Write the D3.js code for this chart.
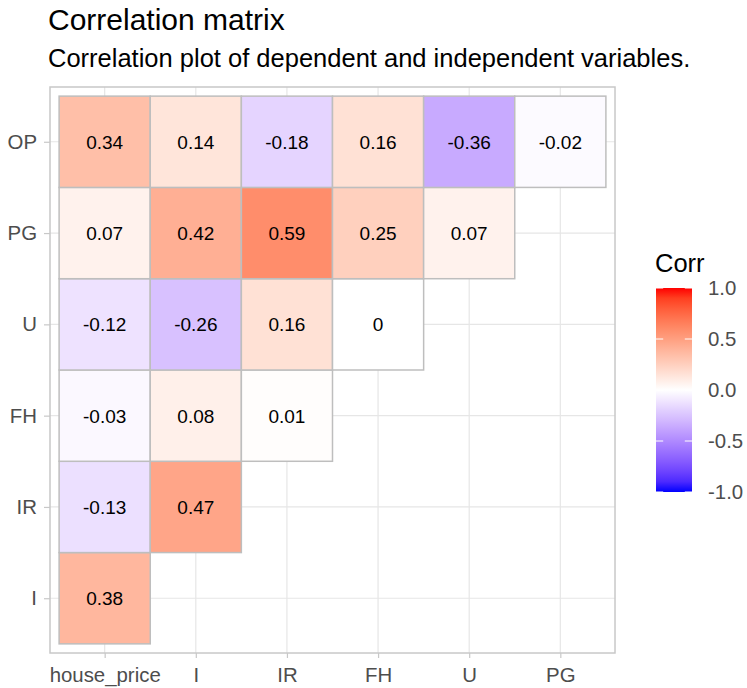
<!DOCTYPE html>
<html>
<head>
<meta charset="utf-8">
<script src="https://cdn.jsdelivr.net/npm/d3@7"></script>
<style>
  body { margin: 0; background: #fff; }
  svg { display: block; font-family: "Liberation Sans", Arial, sans-serif; }
</style>
</head>
<body>
<svg id="corr-plot"></svg>
<script>
const width = 747,
    height = 688;

// variables on each axis
const xVars = ["house_price", "I", "IR", "FH", "U", "PG"];
const yVars = ["I", "IR", "FH", "U", "PG", "OP"]; // bottom to top

// lower-triangle correlations, one row per y variable (left to right along xVars)
const rowI  = [0.38];
const rowIR = [-0.13, 0.47];
const rowFH = [-0.03, 0.08, 0.01];
const rowU  = [-0.12, -0.26, 0.16, 0];
const rowPG = [0.07, 0.42, 0.59, 0.25, 0.07];
const rowOP = [0.34, 0.14, -0.18, 0.16, -0.36, -0.02];

const legendTicks = [1.0, 0.5, 0.0, -0.5, -1.0];

const rows = { I: rowI, IR: rowIR, FH: rowFH, U: rowU, PG: rowPG, OP: rowOP };
const cells = [];
yVars.forEach(yv => {
    rows[yv].forEach((v, i) => cells.push({ x: xVars[i], y: yv, value: v }));
});

const panel = { left: 50, right: 615, top: 87, bottom: 653 };

const x = d3.scalePoint()
    .domain(xVars)
    .range([panel.left, panel.right])
    .padding(0.6);

const y = d3.scalePoint()
    .domain(yVars)
    .range([panel.bottom, panel.top])
    .padding(0.6);

const color = d3.scaleLinear()
    .domain([-1, 0, 1])
    .range(["blue", "white", "red"])
    .interpolate(d3.interpolateLab);

// plain hyphen for negatives, like the original
const fmtTick = d => d.toFixed(1);

const svg = d3.select('#corr-plot')
    .attr('width', width)
    .attr('height', height);

svg.append('rect').attr('width', width).attr('height', height).attr('fill', '#fff');

// titles
svg.append('text')
    .attr('x', 48).attr('y', 30)
    .style('font-size', '30px')
    .attr('fill', '#000')
    .text('Correlation matrix');

svg.append('text')
    .attr('x', 48).attr('y', 67)
    .style('font-size', '25.5px')
    .attr('fill', '#000')
    .text('Correlation plot of dependent and independent variables.');

// grid
const grid = svg.append('g');
grid.selectAll('line.vx')
    .data(xVars).join('line')
    .attr('x1', d => x(d)).attr('x2', d => x(d))
    .attr('y1', panel.top).attr('y2', panel.bottom)
    .attr('stroke', '#e6e6e6').attr('stroke-width', 1.2);
grid.selectAll('line.hy')
    .data(yVars).join('line')
    .attr('y1', d => y(d)).attr('y2', d => y(d))
    .attr('x1', panel.left).attr('x2', panel.right)
    .attr('stroke', '#e6e6e6').attr('stroke-width', 1.2);

// tiles
const step = x.step(), stepY = y.step();
const tile = svg.append('g').selectAll('g')
    .data(cells).join('g');

tile.append('rect')
    .attr('x', d => x(d.x) - step / 2)
    .attr('y', d => y(d.y) - stepY / 2)
    .attr('width', step)
    .attr('height', stepY)
    .attr('fill', d => color(d.value))
    .attr('stroke', '#bebebe')
    .attr('stroke-width', 1.5);

tile.append('text')
    .attr('x', d => x(d.x))
    .attr('y', d => y(d.y))
    .attr('dy', '0.37em')
    .attr('text-anchor', 'middle')
    .style('font-size', '19px')
    .attr('fill', '#000')
    .text(d => String(d.value));

// panel border
svg.append('rect')
    .attr('x', panel.left).attr('y', panel.top)
    .attr('width', panel.right - panel.left)
    .attr('height', panel.bottom - panel.top)
    .attr('fill', 'none')
    .attr('stroke', '#c8c8c8')
    .attr('stroke-width', 1.5);

// axes
const xAxis = svg.append('g')
    .attr('transform', `translate(0,${panel.bottom})`)
    .call(d3.axisBottom(x).tickSize(5).tickPadding(6));
const yAxis = svg.append('g')
    .attr('transform', `translate(${panel.left},0)`)
    .call(d3.axisLeft(y).tickSize(6).tickPadding(7));

[xAxis, yAxis].forEach(ax => {
    ax.select('.domain').remove();
    ax.selectAll('.tick line').attr('stroke', '#c8c8c8').attr('stroke-width', 1.2);
    ax.selectAll('.tick text')
        .attr('fill', '#4d4d4d')
        .style('font-size', '20.4px')
        .style('font-family', '"Liberation Sans", Arial, sans-serif');
});
xAxis.selectAll('.tick text').attr('dy', '0.9em');

// legend colourbar
const bar = { x: 656, w: 36, top: 288, bottom: 492 };
const ly = d3.scaleLinear().domain([-1, 1]).range([bar.bottom, bar.top]);

const defs = svg.append('defs');
const grad = defs.append('linearGradient')
    .attr('id', 'corr-grad')
    .attr('x1', 0).attr('x2', 0).attr('y1', 1).attr('y2', 0);
grad.selectAll('stop')
    .data(d3.range(-1, 1.0001, 0.1))
    .join('stop')
    .attr('offset', d => (d + 1) / 2)
    .attr('stop-color', d => color(d));

const legend = svg.append('g');
legend.append('text')
    .attr('x', 655).attr('y', 272)
    .style('font-size', '25.5px')
    .attr('fill', '#000')
    .text('Corr');

legend.append('rect')
    .attr('x', bar.x).attr('y', bar.top)
    .attr('width', bar.w).attr('height', bar.bottom - bar.top)
    .attr('fill', 'url(#corr-grad)');

legend.selectAll('line.tl')
    .data(legendTicks).join('line')
    .attr('x1', bar.x).attr('x2', bar.x + bar.w / 5)
    .attr('y1', d => ly(d)).attr('y2', d => ly(d))
    .attr('stroke', '#fff').attr('stroke-width', 1);
legend.selectAll('line.tr')
    .data(legendTicks).join('line')
    .attr('x1', bar.x + bar.w).attr('x2', bar.x + bar.w * 4 / 5)
    .attr('y1', d => ly(d)).attr('y2', d => ly(d))
    .attr('stroke', '#fff').attr('stroke-width', 1);

legend.selectAll('text.lab')
    .data(legendTicks).join('text')
    .attr('x', 708)
    .attr('y', d => ly(d))
    .attr('dy', '0.35em')
    .style('font-size', '20.4px')
    .attr('fill', '#4d4d4d')
    .text(fmtTick);
</script>
</body>
</html>
